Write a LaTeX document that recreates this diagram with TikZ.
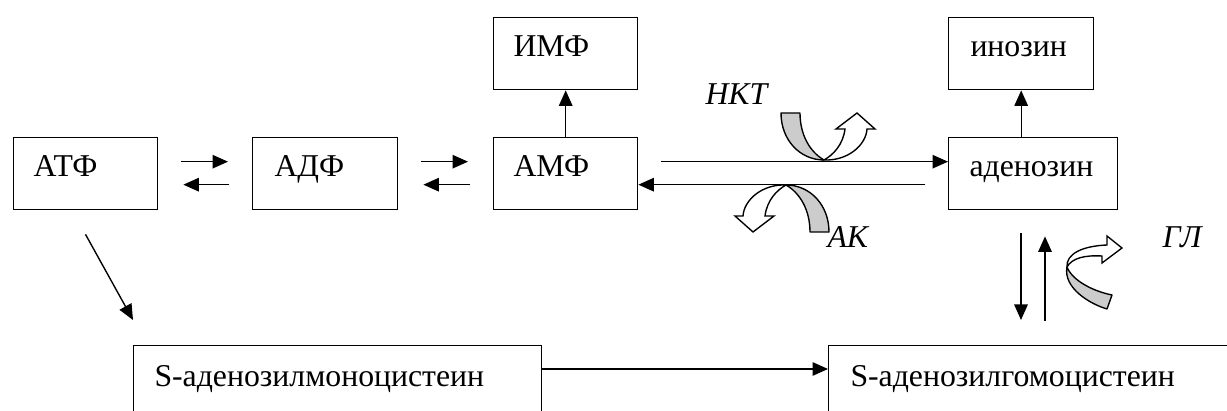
\documentclass[tikz,border=0pt]{standalone}
\usepackage{fontspec}
\setmainfont{Liberation Serif}
\usetikzlibrary{arrows.meta,calc}
\begin{document}
\begin{tikzpicture}[x=0.4pt,y=-0.4pt,
  box/.style={draw,line width=0.55pt,rectangle,inner sep=0pt,anchor=north west,minimum height=28.8pt},
  lbl/.style={anchor=base west,inner sep=0pt,font=\fontsize{12.7}{15}\selectfont},
  ital/.style={anchor=base west,inner sep=0pt,font=\fontsize{12.7}{15}\selectfont\itshape},
  arr/.style={line width=0.55pt,-{Triangle[length=6.2pt,width=5.4pt]}},
  band/.style={draw,line width=0.55pt,line join=round,fill=gray!40},
  head/.style={draw,line width=0.55pt,line join=miter,fill=white}]
\useasboundingbox (0,0) rectangle (1227,411);
\clip (0,0) rectangle (1227,411);
% boxes
\node[box,minimum width=57.7pt] (atp) at (12.7,137) {};
\node[box,minimum width=58pt] (adp) at (252,137) {};
\node[box,minimum width=57.6pt] (amf) at (493,137) {};
\node[box,minimum width=57.6pt] (imf) at (493,17) {};
\node[box,minimum width=58pt] (ino) at (948,17) {};
\node[box,minimum width=67.6pt] (ado) at (948,137) {};
\node[box,minimum width=163.2pt,minimum height=40pt] (sam) at (133,345) {};
\node[box,minimum width=168pt,minimum height=40pt] (sah) at (828,345) {};
% texts
\node[lbl] (tatp) at (33,177) {АТФ};
\node[lbl] (tadp) at (274,177) {АДФ};
\node[lbl] (tamf) at (513,177) {АМФ};
\node[lbl] (timf) at (513,57) {ИМФ};
\node[lbl] (tino) at (970,57) {инозин};
\node[lbl] (tado) at (969,177) {аденозин};
\node[lbl] (tsam) at (154,387) {S-аденозилмоноцистеин};
\node[lbl] (tsah) at (850,387) {S-аденозилгомоцистеин};
\node[ital] (nkt) at (705,105) {НКТ};
\node[ital] (ak) at (827,248) {АК};
\node[ital] (gl) at (1162,248) {ГЛ};
% connectors
\draw[arr] ($(atp.east)+(23,-12)$) -- ($(adp.west)+(-24,-12)$);
\draw[arr] ($(adp.west)+(-23,11)$) -- ($(atp.east)+(25,11)$);
\draw[arr] ($(adp.east)+(23,-12)$) -- ($(amf.west)+(-25,-12)$);
\draw[arr] ($(amf.west)+(-23,11)$) -- ($(adp.east)+(25,11)$);
\draw[arr] (amf.north) -- (imf.south);
\draw[arr] ($(amf.east)+(23,-12)$) -- ($(ado.west)+(0,-12)$);
\draw[arr] ($(ado.west)+(-23,11)$) -- ($(amf.east)+(0,11)$);
\draw[arr] (ado.north -| ino.south) -- (ino.south);
\draw[arr] ($(ado.south west)+(73,23)$) -- ($(sah.north west)+(193,-25)$);
\draw[arr] ($(sah.north west)+(217,-24)$) -- ($(ado.south west)+(97,26)$);
\draw[arr] ($(atp.south)+(0,24)$) -- ($(sam.north west)+(0,-25)$);
\draw[arr] ($(sam.north east)+(0,24)$) -- ($(sah.north west)+(0,24)$);
% curved block arrows: NKT
\filldraw[band] (781,113) -- (800,113) .. controls (800,135) and (810,152) .. (824,160) .. controls (800,160) and (781,140) .. (781,113) -- cycle;
\filldraw[head] (824,160) .. controls (848,161) and (866,145) .. (867,129) -- (875,129) -- (857,113) -- (836,129) -- (845,129) .. controls (843,145) and (833,155) .. (824,160) -- cycle;
% AK (point reflection)
\begin{scope}[rotate around={180:(805,172.5)}]
\filldraw[band] (781,113) -- (800,113) .. controls (800,135) and (810,152) .. (824,160) .. controls (800,160) and (781,140) .. (781,113) -- cycle;
\filldraw[head] (824,160) .. controls (848,161) and (866,145) .. (867,129) -- (875,129) -- (857,113) -- (836,129) -- (845,129) .. controls (843,145) and (833,155) .. (824,160) -- cycle;
\end{scope}
% GL
\filldraw[band] (1067,267) .. controls (1072,280) and (1092,291) .. (1112,295) -- (1107,309) .. controls (1090,304) and (1063,288) .. (1067,267) -- cycle;
\filldraw[head] (1067,267) .. controls (1066,254) and (1082,246) .. (1107,245) -- (1107,236) -- (1122,248) -- (1102,263) -- (1102,256) .. controls (1085,255) and (1072,258) .. (1067,267) -- cycle;
\end{tikzpicture}
\end{document}
